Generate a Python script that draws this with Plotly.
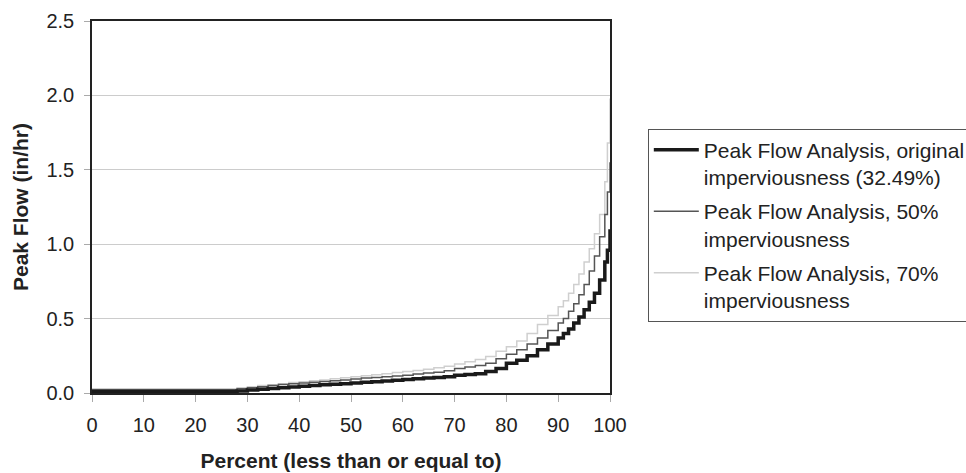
import plotly.graph_objects as go

percent = [0, 26, 28, 30, 32, 34, 36, 38, 40, 42, 44, 46, 48, 50, 52, 54, 56, 58, 60,
           62, 64, 66, 68, 70, 72, 74, 76, 78, 80, 82, 84, 86, 88, 90, 91, 92, 93,
           94, 95, 96, 97, 98, 99, 99.5, 100]

flow_original = [0.012, 0.012, 0.014, 0.02, 0.026, 0.031, 0.036, 0.04, 0.045, 0.05, 0.055,
                 0.058, 0.062, 0.067, 0.072, 0.076, 0.08, 0.085, 0.09, 0.095, 0.1, 0.105,
                 0.11, 0.12, 0.125, 0.13, 0.145, 0.165, 0.2, 0.22, 0.25, 0.29, 0.33, 0.37,
                 0.4, 0.43, 0.47, 0.51, 0.56, 0.61, 0.67, 0.76, 0.88, 0.96, 1.1]

flow_50 = [0.02, 0.02, 0.028, 0.035, 0.042, 0.05, 0.057, 0.062, 0.068, 0.072, 0.077,
           0.082, 0.088, 0.094, 0.1, 0.105, 0.11, 0.115, 0.12, 0.128, 0.135, 0.14, 0.15,
           0.165, 0.175, 0.185, 0.2, 0.23, 0.26, 0.29, 0.33, 0.37, 0.42, 0.47, 0.5, 0.55,
           0.6, 0.66, 0.73, 0.82, 0.92, 1.05, 1.2, 1.35, 1.55]

flow_70 = [0.028, 0.028, 0.035, 0.042, 0.05, 0.056, 0.063, 0.07, 0.076, 0.082, 0.088,
           0.095, 0.102, 0.11, 0.116, 0.122, 0.13, 0.137, 0.145, 0.152, 0.16, 0.17, 0.18,
           0.195, 0.21, 0.225, 0.245, 0.28, 0.31, 0.35, 0.4, 0.46, 0.52, 0.58, 0.62, 0.67,
           0.73, 0.8, 0.88, 0.97, 1.07, 1.2, 1.42, 1.68, 1.98]

series_names = ["Peak Flow Analysis, original<br>imperviousness (32.49%)",
                "Peak Flow Analysis, 50%<br>imperviousness",
                "Peak Flow Analysis, 70%<br>imperviousness"]

fig = go.Figure()
fig.add_trace(go.Scatter(x=percent, y=flow_70, mode="lines", line_shape="hv",
                         line=dict(color="#cfcfcf", width=1.5), name=series_names[2],
                         legendrank=3, legendgroup="g3"))
fig.add_trace(go.Scatter(x=percent, y=flow_50, mode="lines", line_shape="hv",
                         line=dict(color="#555555", width=1.5), name=series_names[1],
                         legendrank=2, legendgroup="g2"))
fig.add_trace(go.Scatter(x=percent, y=flow_original, mode="lines", line_shape="hv",
                         line=dict(color="#1a1a1a", width=3.5), name=series_names[0],
                         legendrank=1, legendgroup="g1"))

font_family = "Liberation Sans, Arial, sans-serif"

fig.update_layout(
    width=966, height=473,
    margin=dict(l=92, r=356, t=21, b=80, autoexpand=False),
    paper_bgcolor="white", plot_bgcolor="white",
    font=dict(family=font_family, color="#222222", size=20),
    showlegend=True,
    legend=dict(x=1.073, y=0.711, xanchor="left", yanchor="top",
                bordercolor="#555555", borderwidth=1, bgcolor="white",
                font=dict(size=21, color="#222222"), valign="top",
                itemwidth=45, traceorder="grouped", tracegroupgap=4),
    xaxis=dict(range=[0, 100], dtick=10, tick0=0,
               showline=True, linecolor="#222222", linewidth=1.5, mirror=True,
               showgrid=False, zeroline=False,
               ticks="outside", ticklen=7, tickcolor="#aaaaaa", ticklabelstandoff=6,
               title=dict(text="<b>Percent (less than or equal to)</b>",
                          font=dict(size=21), standoff=19)),
    yaxis=dict(range=[0, 2.5], dtick=0.5, tick0=0, tickformat=".1f",
               showline=True, linecolor="#222222", linewidth=1.5, mirror=True,
               showgrid=True, gridcolor="#cccccc", gridwidth=1, zeroline=False,
               ticks="outside", ticklen=6, tickcolor="#aaaaaa", ticklabelstandoff=6,
               title=dict(text="<b>Peak Flow (in/hr)</b>", font=dict(size=21), standoff=12)),
)

fig.write_html("out.html", config={"displayModeBar": False},
               post_script="document.body.style.margin='0';")
